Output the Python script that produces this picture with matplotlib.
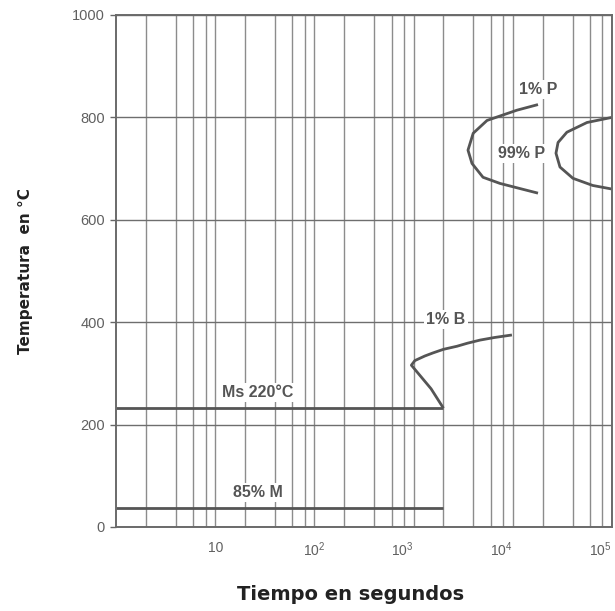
from __future__ import annotations

import matplotlib
matplotlib.use("Agg")
import matplotlib.pyplot as plt
from matplotlib.ticker import FixedLocator, NullFormatter

# curvas del diagrama TTT (tiempo en s, temperatura en °C)
ms_t = [1, 2000]
ms_temp = [232, 232]
m85_t = [1, 2000]
m85_temp = [38, 38]

b1_t = [2000, 1500, 950, 1030, 1300, 1570, 2000, 2740, 3500, 4670, 6500, 9800]
b1_temp = [232, 270, 316, 325, 334, 340, 347, 353, 359, 365, 370, 375]

p1_t = [17950, 11000, 5500, 3990, 3535, 3880, 5010, 7430, 11800, 17950]
p1_temp = [825, 814, 794, 769, 736, 710, 683, 671, 661, 652]

p99_t = [100000, 56000, 35100, 28600, 27250, 29900, 40400, 64000, 100000]
p99_temp = [800, 790, 771, 751, 730, 703, 681, 667, 660]

y_ticks = [0, 200, 400, 600, 800, 1000]
x_ticks = [10, 100, 1000, 10000, 100000]
x_tick_labels = ["10", "$10^2$", "$10^3$", "$10^4$", "$10^5$"]
x_minor = [m * 10 ** d for d in range(0, 5) for m in (2, 4, 6, 8)]

labels = [
    ("1% P", 18000, 855),
    ("99% P", 12300, 730),
    ("1% B", 2120, 406),
    ("Ms 220°C", 27, 263),
    ("85% M", 27, 68),
]


def main() -> None:
    plt.rcParams["font.family"] = ["Liberation Sans", "DejaVu Sans"]
    plt.rcParams["mathtext.fontset"] = "custom"
    plt.rcParams["mathtext.rm"] = "Liberation Sans"

    fig = plt.figure(figsize=(6.15, 6.11), dpi=100)
    ax = fig.add_axes([0.1886, 0.1375, 0.8065, 0.838])

    ax.set_xscale("log")
    ax.set_xlim(1, 100000)
    ax.set_ylim(0, 1000)

    ax.set_xticks(x_ticks)
    ax.set_xticklabels(x_tick_labels)
    ax.xaxis.set_minor_locator(FixedLocator(x_minor))
    ax.xaxis.set_minor_formatter(NullFormatter())
    ax.set_yticks(y_ticks)
    # en el original las etiquetas de 10^3 en adelante quedan a la izquierda de la línea
    for i, tick in enumerate(ax.xaxis.get_major_ticks()):
        if i >= 2:
            tick.label1.set_horizontalalignment("right")

    ax.grid(True, which="both", axis="x", color="#8c8c8c", linewidth=1.0)
    ax.grid(True, which="major", axis="y", color="#6e6e6e", linewidth=1.0)
    ax.set_axisbelow(True)

    ax.tick_params(axis="x", which="both", length=0, pad=10, labelsize=10, labelcolor="#606060")
    ax.tick_params(axis="y", length=4, width=1, color="#666666", pad=4, labelsize=10.5, labelcolor="#606060")
    for s in ax.spines.values():
        s.set_color("#6a6a6a")
        s.set_linewidth(1.4)

    line_kw = dict(color="#555555", linewidth=2.0, solid_capstyle="butt")
    ax.plot(ms_t, ms_temp, **line_kw)
    ax.plot(m85_t, m85_temp, **line_kw)
    ax.plot(b1_t, b1_temp, **line_kw)
    ax.plot(p1_t, p1_temp, **line_kw)
    ax.plot(p99_t, p99_temp, **line_kw)

    for txt, x, y in labels:
        ax.text(x, y, txt, ha="center", va="center", fontsize=11.5, fontweight="bold", color="#555555",
                bbox=dict(facecolor="white", edgecolor="none", pad=1.5))

    ax.set_xlabel("Tiempo en segundos", fontsize=14, fontweight="bold", color="#222222",
                  family=["DejaVu Sans"])
    ax.xaxis.set_label_coords(0.472, -0.113)
    ax.set_ylabel("Temperatura  en °C", fontsize=11, fontweight="bold", color="#222222",
                  family=["DejaVu Sans"])
    ax.yaxis.set_label_coords(-0.167, 0.5)

    fig.savefig("out.png", dpi=100)
    plt.close(fig)


if __name__ == "__main__":
    main()
